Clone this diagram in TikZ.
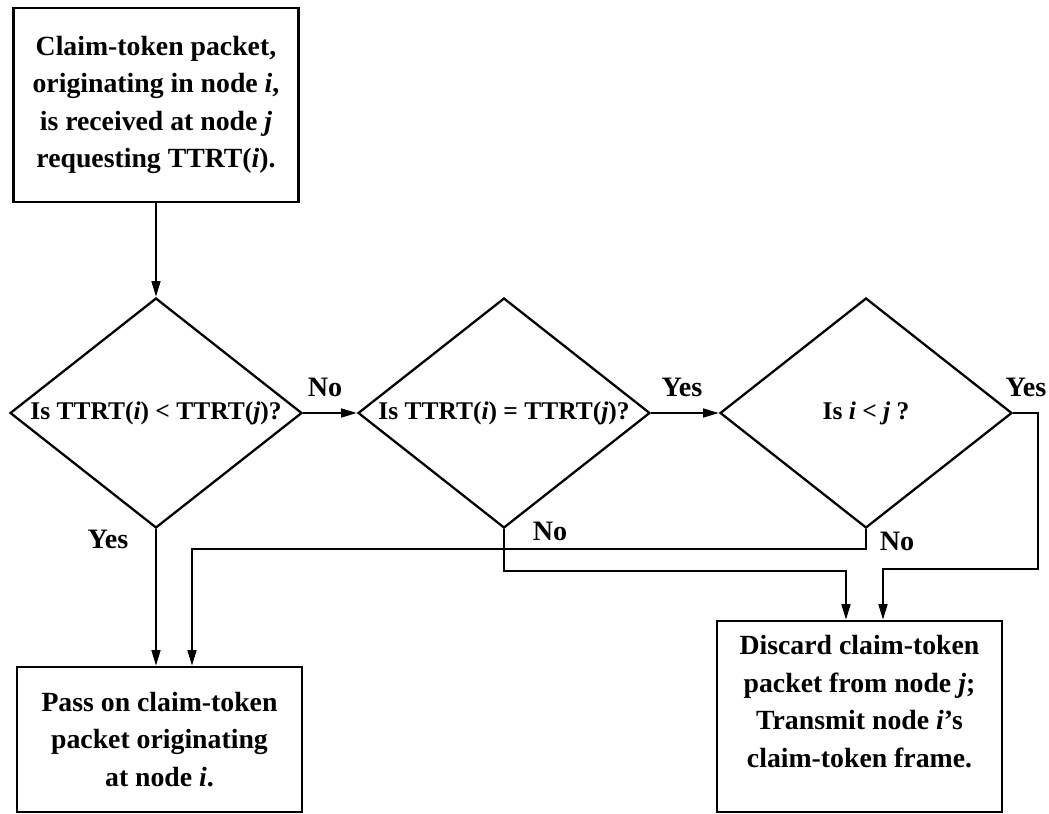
\documentclass[tikz,border=0pt]{standalone}
\usepackage{fontspec}
\setmainfont{Liberation Serif}
\usepackage{tikz}
\usetikzlibrary{arrows.meta, positioning, shapes.geometric, calc}

\newcommand{\boxfont}{\fontsize{15.8}{21.3}\selectfont\bfseries}
\newcommand{\askfont}{\fontsize{14.5}{17}\selectfont\bfseries}

\begin{document}
\begin{tikzpicture}[x=0.02cm, y=-0.02cm, line width=1.3pt,
    >={Triangle[length=9pt, width=5pt]},
    box/.style={draw, rectangle, minimum width=5.7cm, align=center, font=\boxfont},
    decision/.style={draw, diamond, minimum width=5.84cm, minimum height=4.6cm, inner sep=0pt},
    asktext/.style={font=\askfont, inner sep=1pt},
    answer/.style={font=\fontsize{16}{18}\selectfont\bfseries, inner sep=1pt}]
  \useasboundingbox (0,0) rectangle (1049,814);

  % Start
  \node[box, minimum height=3.88cm] (claim) at (156, 105)
    {Claim-token packet,\\ originating in node \textit{i},\\ is received at node \textit{j}\\ requesting TTRT(\textit{i}).};

  % Decisions
  \foreach \n/\x/\t in {lessq/156/{Is TTRT(\textit{i}) < TTRT(\textit{j})?},
                        equalq/504/{Is TTRT(\textit{i}) = TTRT(\textit{j})?},
                        indexq/866/{Is \textit{i} < \textit{j} ?}} {
    \node[decision] (\n) at (\x, 413) {};
    \node[asktext] (\n text) at (\n) {\t};
  }

  % Results
  \node[box, minimum height=2.9cm] (pass) at (159.5, 739.5)
    {Pass on claim-token\\ packet originating\\ at node \textit{i}.};
  \node[box, minimum height=3.82cm] (discard) at (859.5, 716.5) {};
  \node[font=\boxfont, align=center] (discardtext) at (859.5, 701.5)
    {Discard claim-token\\ packet from node \textit{j};\\ Transmit node \textit{i}'s\\ claim-token frame.};

  % Flow
  \draw[->] (claim) -- (lessq);
  \draw[->] (lessq) -- (equalq);
  \draw[->] (equalq) -- (indexq);
  \draw[->] (lessq.south) -- (lessq.south |- pass.north);
  \draw[->] (indexq.south) -- ++(0,20) -| ($(pass.north)+(32.5,0)$);
  \draw[->] (equalq.south) -- ++(0,42) -| ($(discard.north)+(-13.5,0)$);
  \draw[->] (indexq.east) -| ++(25,156) -| ($(discard.north)+(23.5,0)$);

  % Answers
  \node[answer] (noA) at (325, 387) {No};
  \node[answer] (yesA) at (682, 387) {Yes};
  \node[answer] (yesB) at (1026, 387) {Yes};
  \node[answer] (yesC) at (108, 539) {Yes};
  \node[answer] (noB) at (550, 531) {No};
  \node[answer] (noC) at (897, 541) {No};
\end{tikzpicture}
\end{document}
